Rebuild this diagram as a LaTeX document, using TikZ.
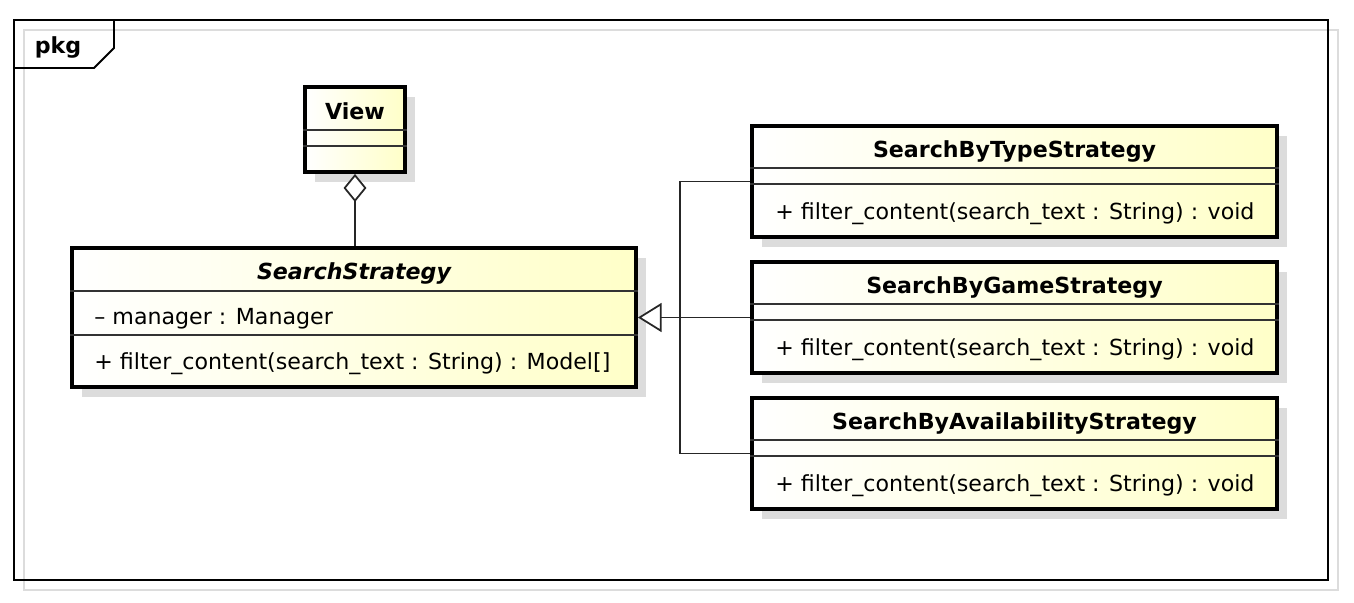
\documentclass[tikz,border=0pt]{standalone}
\usepackage{fontspec}
\setmainfont{DejaVu Sans}
\usepackage{tikz}
\usetikzlibrary{arrows.meta,shadows}
\definecolor{jauneUml}{RGB}{255,255,200}
\definecolor{ombreUml}{RGB}{220,220,220}
\newcommand{\taille}{\fontsize{12.6}{15}\selectfont}

\begin{document}
\begin{tikzpicture}[x=0.02cm, y=-0.02cm,
  classe/.style={draw=black, line width=2.2pt, inner sep=0pt,
                 left color=white, right color=jauneUml,
                 drop shadow={shadow xshift=0.2cm, shadow yshift=-0.2cm,
                              fill=ombreUml, opacity=1}},
  titre/.style={font=\taille\bfseries, inner sep=0pt,
                text height=10pt, text depth=2.5pt},
  membre/.style={font=\taille, anchor=west, inner sep=0pt,
                 text height=10pt, text depth=2.5pt},
  trait/.style={line width=0.8pt, black!80},
  lien/.style={line width=1pt, black!85},
  heritage/.style={lien, -{Triangle[length=13.5pt, width=16.5pt, fill=white]}},
  agregation/.style={lien, -{Diamond[length=16pt, width=13pt, fill=white]}}]

  \path[fill=white] (0,0) rectangle (1354,602);
  \useasboundingbox (0,0) rectangle (1354,602);

  % cadre du paquetage
  \draw[ombreUml, line width=1.2pt] (24,30) rectangle (1338,590);
  \draw[line width=1.2pt] (14,20) rectangle (1328,580);
  \draw[line width=1.1pt] (14,68) -- (94,68) -- (114,48) -- (114,20);
  \node[titre] (Pkg) at (58,47) {pkg};

  % View
  \node[classe, minimum width=2cm, minimum height=1.7cm] (View) at (355,129.5) {};
  \node[titre] (View-t) at (355,113) {View};
  \draw[trait] ([yshift=-0.9cm]View.north west) -- ([yshift=-0.9cm]View.north east);
  \draw[trait] ([yshift=-1.22cm]View.north west) -- ([yshift=-1.22cm]View.north east);

  % SearchStrategy
  \node[classe, minimum width=11.28cm, minimum height=2.78cm] (Strat) at (354,317.5) {};
  \node[titre, font=\taille\bfseries\itshape] (Strat-t) at (354,273) {SearchStrategy};
  \draw[trait] ([yshift=-0.9cm]Strat.north west) -- ([yshift=-0.9cm]Strat.north east);
  \draw[trait] ([yshift=-1.78cm]Strat.north west) -- ([yshift=-1.78cm]Strat.north east);
  \node[membre] (Strat-a) at (94,318) {–\ manager : Manager};
  \node[membre] (Strat-m) at (94,363) {+\ filter\_content(search\_text : String) : Model[]};

  % strategies concretes
  \node[classe, minimum width=10.5cm, minimum height=2.22cm] (ParType) at (1014.5,181.5) {};
  \node[titre] (ParType-t) at (1014.5,151) {SearchByTypeStrategy};
  \draw[trait] ([yshift=-0.88cm]ParType.north west) -- ([yshift=-0.88cm]ParType.north east);
  \draw[trait] ([yshift=-1.2cm]ParType.north west) -- ([yshift=-1.2cm]ParType.north east);
  \node[membre] (ParType-m) at (775,213) {+\ filter\_content(search\_text : String) : void};

  \node[classe, minimum width=10.5cm, minimum height=2.22cm] (ParJeu) at (1014.5,317.5) {};
  \node[titre] (ParJeu-t) at (1014.5,287) {SearchByGameStrategy};
  \draw[trait] ([yshift=-0.88cm]ParJeu.north west) -- ([yshift=-0.88cm]ParJeu.north east);
  \draw[trait] ([yshift=-1.2cm]ParJeu.north west) -- ([yshift=-1.2cm]ParJeu.north east);
  \node[membre] (ParJeu-m) at (775,349) {+\ filter\_content(search\_text : String) : void};

  \node[classe, minimum width=10.5cm, minimum height=2.22cm] (ParDispo) at (1014.5,453.5) {};
  \node[titre] (ParDispo-t) at (1014.5,423) {SearchByAvailabilityStrategy};
  \draw[trait] ([yshift=-0.88cm]ParDispo.north west) -- ([yshift=-0.88cm]ParDispo.north east);
  \draw[trait] ([yshift=-1.2cm]ParDispo.north west) -- ([yshift=-1.2cm]ParDispo.north east);
  \node[membre] (ParDispo-m) at (775,485) {+\ filter\_content(search\_text : String) : void};

  % liens
  \coordinate (J) at (680,317.5);
  \draw[lien] (ParType.west) -| (J);
  \draw[lien] (ParDispo.west) -| (J);
  \draw[heritage] (ParJeu.west) -- (Strat.east);
  \draw[agregation] (Strat.north -| View.south) -- (View.south);
\end{tikzpicture}
\end{document}
